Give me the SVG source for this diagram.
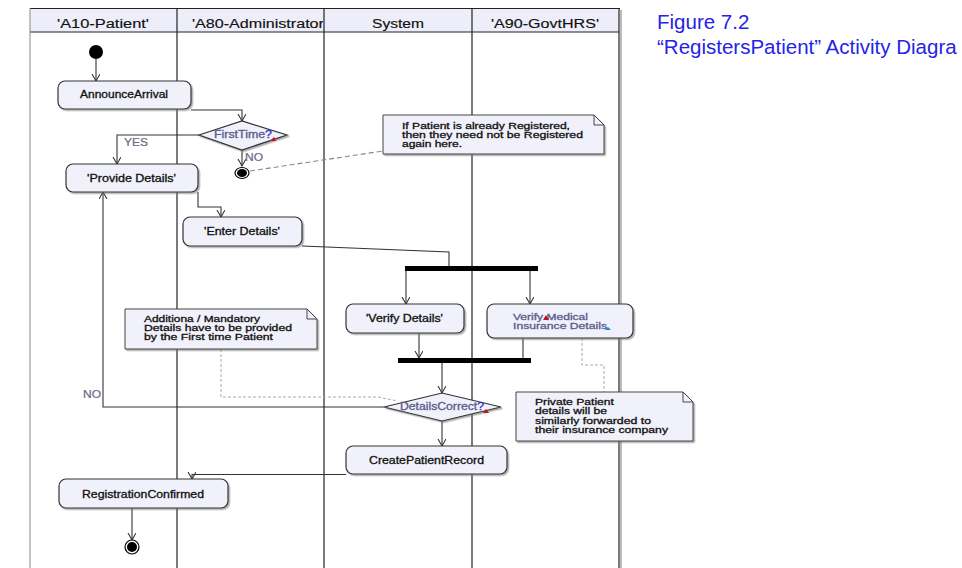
<svg xmlns="http://www.w3.org/2000/svg" width="962" height="568" viewBox="0 0 962 568">
<style>
text{font-family:"Liberation Sans",Arial,sans-serif;fill:#111}
.hdr{font-size:12px;stroke:#111;stroke-width:0.15}
.nt{font-size:10px;stroke:#111;stroke-width:0.3}
.ns{font-size:9px;stroke:#111;stroke-width:0.3}
.lbl{font-size:10px;fill:#6a6a88;stroke:#6a6a88;stroke-width:0.2}
.pur{fill:#5c5c8c;stroke:#5c5c8c}
.q{fill:#3030d0;stroke:#3030d0}
.node{fill:#f1f1fb;stroke:#333;stroke-width:1.2;filter:url(#sh)}
.note{fill:#f1f1fb;stroke:#444;stroke-width:1;filter:url(#sh)}
.fold{fill:none;stroke:#444;stroke-width:1}
.lane{stroke:#222;stroke-width:1.2;fill:none}
.c{fill:none;stroke:#333;stroke-width:1.1}
.ca{fill:none;stroke:#333;stroke-width:1.1;marker-end:url(#arr)}
.d1{fill:none;stroke:#888;stroke-width:1.1;stroke-dasharray:5 3}
.d2{fill:none;stroke:#aaa;stroke-width:1;stroke-dasharray:3 2}
.bar{fill:#000}
.title{font-size:20.5px;fill:#2424e6}
</style>
<defs>
<marker id="arr" markerWidth="10" markerHeight="10" refX="7" refY="4" orient="auto" markerUnits="userSpaceOnUse">
<path d="M0,0 L7,4 L0,8" fill="none" stroke="#333" stroke-width="1.1"/>
</marker>
<filter id="sh" x="-10%" y="-20%" width="130%" height="150%">
<feDropShadow dx="1.5" dy="1.5" stdDeviation="0.7" flood-color="#777" flood-opacity="0.6"/>
</filter>
<clipPath id="lane2"><rect x="178" y="8" width="145" height="24"/></clipPath>
</defs>

<g id="swimlanes">
<rect x="30" y="8" width="589" height="24" fill="#eeeefa" stroke="none"/>
<line x1="30" y1="8.5" x2="620" y2="8.5" class="lane"/>
<line x1="30" y1="32" x2="619" y2="32" class="lane"/>
<line x1="30" y1="8" x2="30" y2="568" stroke="#888" stroke-width="1"/>
<line x1="177" y1="8" x2="177" y2="568" class="lane"/>
<line x1="324" y1="8" x2="324" y2="568" class="lane"/>
<line x1="472" y1="8" x2="472" y2="568" class="lane"/>
<line x1="619" y1="8" x2="619" y2="568" class="lane"/>
<line x1="621" y1="10" x2="621" y2="568" stroke="#bbb" stroke-width="2"/>
<text class="hdr" x="57" y="28" textLength="92" lengthAdjust="spacingAndGlyphs">'A10-Patient'</text>
<g clip-path="url(#lane2)"><text class="hdr" x="192" y="28" textLength="135" lengthAdjust="spacingAndGlyphs">'A80-Administrator'</text></g>
<text class="hdr" x="372" y="28" textLength="52" lengthAdjust="spacingAndGlyphs">System</text>
<text class="hdr" x="491" y="28" textLength="108" lengthAdjust="spacingAndGlyphs">'A90-GovtHRS'</text>
</g>

<g id="title">
<text class="title" x="657" y="29">Figure 7.2</text>
<text class="title" x="657" y="54">“RegistersPatient” Activity Diagra</text>
</g>

<g id="connectors">
<path class="ca" d="M96,59 V81"/>
<path class="ca" d="M191,110 H242 V121"/>
<path class="ca" d="M199,135 H117 V164"/>
<path class="ca" d="M242,150 V166"/>
<path class="ca" d="M198,192 V207 H221 V217"/>
<path class="c" d="M302,246 L449,252 V266"/>
<path class="ca" d="M406,271 V304"/>
<path class="ca" d="M530,271 V304"/>
<path class="ca" d="M419,333 V358"/>
<path class="c" d="M523,338 V358"/>
<path class="ca" d="M442,363 V393"/>
<path class="ca" d="M384,407 H103 V192"/>
<path class="ca" d="M442,421 V446"/>
<path class="ca" d="M346,474.5 H192 V479"/>
<path class="ca" d="M132,508 V540"/>
<path class="d1" d="M250,171 L383,151"/>
<path class="d2" d="M221,349 V397 H378 L398,401"/>
<path class="d2" d="M582,338 V365 H604 V392"/>
<text class="lbl" x="124" y="146" textLength="24" lengthAdjust="spacingAndGlyphs">YES</text>
<text class="lbl" x="245" y="161" textLength="18" lengthAdjust="spacingAndGlyphs">NO</text>
<text class="lbl" x="83" y="398" textLength="18" lengthAdjust="spacingAndGlyphs">NO</text>
</g>

<g id="start"><circle cx="96" cy="52" r="7" fill="#000"/></g>

<g id="announceArrival">
<rect class="node" x="58" y="81" width="133" height="28" rx="7"/>
<text class="nt" x="80" y="98" textLength="88" lengthAdjust="spacingAndGlyphs">AnnounceArrival</text>
</g>

<g id="firstTime">
<polygon class="node" points="199,135 242,121 287,135 242,150"/>
<text class="nt pur" x="214" y="138" textLength="58" lengthAdjust="spacingAndGlyphs">FirstTime<tspan class="q">?</tspan></text>
<polygon points="270,141 274,137 276,141" fill="#d01010"/>
</g>

<g id="final1">
<ellipse cx="242" cy="173" rx="7" ry="5.5" fill="#fff" stroke="#000" stroke-width="1.2"/>
<ellipse cx="242" cy="173" rx="5" ry="4" fill="#000"/>
</g>

<g id="provideDetails">
<rect class="node" x="66" y="164" width="132" height="28" rx="7"/>
<text class="nt" x="87" y="182" textLength="89" lengthAdjust="spacingAndGlyphs">'Provide Details'</text>
</g>

<g id="enterDetails">
<rect class="node" x="183" y="217" width="119" height="29" rx="7"/>
<text class="nt" x="204" y="235" textLength="76" lengthAdjust="spacingAndGlyphs">'Enter Details'</text>
</g>

<g id="note1">
<path class="note" d="M383,115 H594 L604,125 V154 H383 Z"/>
<path class="fold" d="M594,115 V125 H604"/>
<text class="ns" x="402" y="129" textLength="168" lengthAdjust="spacingAndGlyphs">If Patient is already Registered,</text>
<text class="ns" x="402" y="138" textLength="181" lengthAdjust="spacingAndGlyphs">then they need not be Registered</text>
<text class="ns" x="402" y="147" textLength="60" lengthAdjust="spacingAndGlyphs">again here.</text>
</g>

<g id="fork"><rect class="bar" x="405" y="266" width="133" height="5"/></g>

<g id="verifyDetails">
<rect class="node" x="346" y="304" width="118" height="29" rx="7"/>
<text class="nt" x="366" y="322" textLength="77" lengthAdjust="spacingAndGlyphs">'Verify Details'</text>
</g>

<g id="verifyMedical">
<rect class="node" x="487" y="304" width="146" height="34" rx="7"/>
<text class="ns pur" x="513" y="320" textLength="75" lengthAdjust="spacingAndGlyphs">Verify Medical</text>
<text class="ns pur" x="513" y="329" textLength="94" lengthAdjust="spacingAndGlyphs">Insurance Details</text>
<polygon points="543,320 546,315 549,320" fill="#c01010"/>
<polygon points="605,330 608,327 611,330" fill="#1090c0"/>
</g>

<g id="join"><rect class="bar" x="398" y="358" width="133" height="5"/></g>

<g id="note2">
<path class="note" d="M125,309 H307 L317,319 V349 H125 Z"/>
<path class="fold" d="M307,309 V319 H317"/>
<text class="ns" x="144" y="322" textLength="116" lengthAdjust="spacingAndGlyphs">Additiona / Mandatory</text>
<text class="ns" x="144" y="331" textLength="148" lengthAdjust="spacingAndGlyphs">Details have to be provided</text>
<text class="ns" x="144" y="340" textLength="129" lengthAdjust="spacingAndGlyphs">by the First time Patient</text>
</g>

<g id="detailsCorrect">
<polygon class="node" points="384,407 442,393 501,407 442,421"/>
<text class="nt pur" x="400" y="410" textLength="84" lengthAdjust="spacingAndGlyphs">DetailsCorrect<tspan class="q">?</tspan></text>
<polygon points="483,413 486,409 489,413" fill="#d01010"/>
</g>

<g id="note3">
<path class="note" d="M516,392 H683 L693,402 V441 H516 Z"/>
<path class="fold" d="M683,392 V402 H693"/>
<text class="ns" x="535" y="405" textLength="79" lengthAdjust="spacingAndGlyphs">Private Patient</text>
<text class="ns" x="535" y="414" textLength="72" lengthAdjust="spacingAndGlyphs">details will be</text>
<text class="ns" x="535" y="424" textLength="116" lengthAdjust="spacingAndGlyphs">similarly forwarded to</text>
<text class="ns" x="535" y="433" textLength="133" lengthAdjust="spacingAndGlyphs">their insurance company</text>
</g>

<g id="createPatientRecord">
<rect class="node" x="346" y="446" width="161" height="28" rx="7"/>
<text class="nt" x="369" y="464" textLength="115" lengthAdjust="spacingAndGlyphs">CreatePatientRecord</text>
</g>

<g id="registrationConfirmed">
<rect class="node" x="59" y="479" width="169" height="29" rx="7"/>
<text class="nt" x="82" y="498" textLength="122" lengthAdjust="spacingAndGlyphs">RegistrationConfirmed</text>
</g>

<g id="final2">
<circle cx="132" cy="547" r="7" fill="#fff" stroke="#000" stroke-width="1.2"/>
<circle cx="132" cy="547" r="5" fill="#000"/>
</g>
</svg>
